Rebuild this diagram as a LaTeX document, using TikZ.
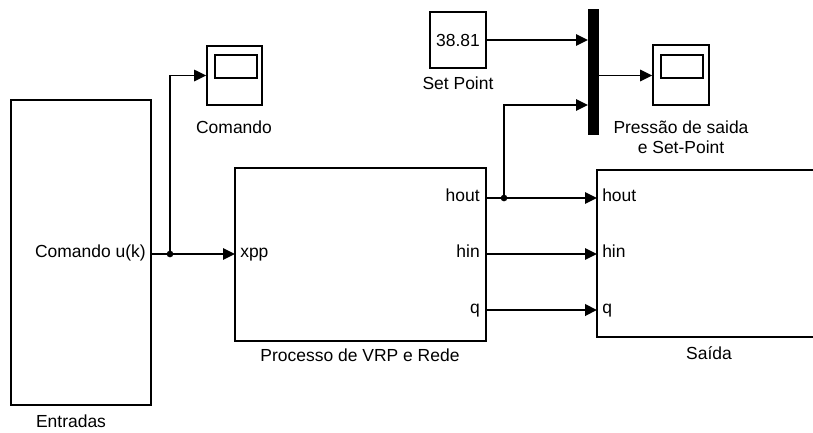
\documentclass[tikz,border=0pt]{standalone}
\usepackage{fontspec}
\setmainfont{Liberation Sans}
\usetikzlibrary{arrows.meta,fit}
\begin{document}
\begin{tikzpicture}[x=0.75pt,y=-0.75pt,
  every node/.style={font=\fontsize{13.1}{15}\selectfont, inner sep=0pt},
  block/.style={draw, line width=1.3pt, inner sep=0pt},
  wire/.style={line width=1.4pt},
  sig/.style={wire, -{Triangle[length=9pt,width=8.5pt]}},
  bus/.style={sig, line width=2.2pt},
  dotj/.style={circle, fill, minimum size=5pt, inner sep=0pt},
  lbl/.style={align=center}
]
\clip (0,0) rectangle (813,432);

% Entradas subsystem
\node[block, fit={(11,100) (151,405)}] (ent) {};
\node[anchor=mid east] (ent-p) at (146,254) {Comando u(k)};
\node[lbl] (ent-name) at (71,421) {Entradas};
\coordinate (ent-out) at (151,254);

% Comando scope
\node[block, fit={(207,46) (262,105)}] (sc1) {};
\node[block, fit={(215,55) (257,78)}] (sc1-screen) {};
\node[lbl] (sc1-name) at (234,127) {Comando};

% Processo de VRP e Rede subsystem
\node[block, fit={(235,168) (486,341)}] (proc) {};
\node[lbl] (proc-name) at (360,355) {Processo de VRP e Rede};
\node[anchor=mid west] (proc-xpp-l) at (240,254) {xpp};
\node[anchor=mid east] (proc-hout-l) at (480,198) {hout};
\node[anchor=mid east] (proc-hin-l) at (480,254) {hin};
\node[anchor=mid east] (proc-q-l) at (480,310) {q};
\coordinate (proc-xpp) at (235,254);
\coordinate (proc-hout) at (486,198);
\coordinate (proc-hin) at (486,254);
\coordinate (proc-q) at (486,310);

% Saida subsystem (runs off the right edge)
\node[block, fit={(597,170) (821,337)}] (sai) {};
\node[lbl] (sai-name) at (709,353) {Saída};
\node[anchor=mid west] (sai-hout-l) at (602,198) {hout};
\node[anchor=mid west] (sai-hin-l) at (602,254) {hin};
\node[anchor=mid west] (sai-q-l) at (602,310) {q};
\coordinate (sai-hout) at (597,198);
\coordinate (sai-hin) at (597,254);
\coordinate (sai-q) at (597,310);

% Set Point constant
\node[block, fit={(430,12) (486,68)}] (sp) {};
\node (sp-val) at (458,40) {38.81};
\node[lbl] (sp-name) at (458,83) {Set Point};

% Mux bar
\node[fill, fit={(588,9) (599,135)}] (mux) {};
\coordinate (mux-in1) at (588,40);
\coordinate (mux-in2) at (588,105);
\coordinate (mux-out) at (599,75.5);

% Pressure / set-point scope
\node[block, fit={(653,45) (709,105)}] (sc2) {};
\node[block, fit={(661,55) (703,78)}] (sc2-screen) {};
\node[lbl] (sc2-name) at (681,137) {Pressão de saida\\e Set-Point};

% Branch points
\node[dotj] (j1) at (170,254) {};
\node[dotj] (j2) at (504,198) {};

% Signal lines
\draw[wire] (ent-out) -- (j1.center);
\draw[sig] (j1.center) -- (proc-xpp);
\draw[sig] (j1.center) |- (sc1.west);

\draw[wire] (proc-hout) -- (j2.center);
\draw[sig] (j2.center) -- (sai-hout);
\draw[sig] (j2.center) |- (mux-in2);
\draw[sig] (proc-hin) -- (sai-hin);
\draw[bus] (proc-q) -- (sai-q);

\draw[sig] (sp.east) -- (mux-in1);
\draw[sig] (mux-out) -- (sc2.west |- mux-out);
\end{tikzpicture}
\end{document}
